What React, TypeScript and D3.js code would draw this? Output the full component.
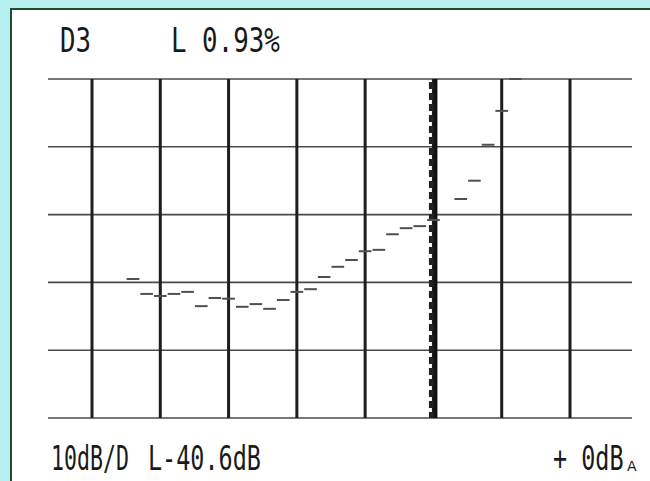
import React, { useEffect, useRef } from 'react';
import * as d3 from 'd3';

// level per analyser bin, dB (null = not drawn)
const levels: (number | null)[] = [
  -29.5, -31.7, -32.0, -31.7, -31.4, -33.5, -32.3, -32.4, -33.6, -33.2,
  -33.9, -32.6, -31.4, -31.0, -29.2, -27.7, -26.7, -25.4, -25.2, -22.9,
  -22.0, -21.7, -20.8, null, -17.7, -15.0, -9.7, -4.7, 0.0,
];
const levelTicks = [0, -10, -20, -30, -40, -50];
const binTicks = [-2.5, 2.5, 7.5, 12.5, 17.5, 22.5, 27.5, 32.5];
const cursorBin = 22.5;

const topLeft = 'D3';
const topMid = 'L 0.93%';
const bottomLeft = '10dB/D';
const bottomMid = 'L-40.6dB';
const bottomRight = '+ 0dB';

const W = 650;
const H = 481;

const App = () => {
  const svgRef = useRef<SVGSVGElement>(null);

  useEffect(() => {
    const svg = d3.select(svgRef.current);
    svg.selectAll('*').remove();

    const x = d3.scaleLinear().domain([-2.5, 32.5]).range([92, 570]);
    const y = d3.scaleLinear().domain([-50, 0]).range([418, 79]);
    const left = 48;
    const right = 632;

    svg.append('rect').attr('width', W).attr('height', H).attr('fill', '#b4eeee');
    svg.append('rect')
      .attr('x', 11).attr('y', 9).attr('width', W).attr('height', H)
      .attr('fill', '#ffffff')
      .attr('stroke', '#1d4d2c').attr('stroke-width', 2);

    const g = svg.append('g');

    g.selectAll('.hline')
      .data(levelTicks)
      .enter().append('line')
      .attr('x1', left).attr('x2', right)
      .attr('y1', d => y(d)).attr('y2', d => y(d))
      .attr('stroke', '#4a4a4a').attr('stroke-width', 1.6);

    g.selectAll('.vline')
      .data(binTicks)
      .enter().append('line')
      .attr('x1', d => x(d)).attr('x2', d => x(d))
      .attr('y1', y(0)).attr('y2', y(-50))
      .attr('stroke', '#1e1e1e').attr('stroke-width', 3);

    // cursor
    g.append('line')
      .attr('x1', x(cursorBin) + 2).attr('x2', x(cursorBin) + 2)
      .attr('y1', y(0)).attr('y2', y(-50))
      .attr('stroke', '#111').attr('stroke-width', 4);
    g.append('line')
      .attr('x1', x(cursorBin) - 2).attr('x2', x(cursorBin) - 2)
      .attr('y1', y(0) + 3).attr('y2', y(-50))
      .attr('stroke', '#222').attr('stroke-width', 5)
      .attr('stroke-dasharray', '7 4');

    g.selectAll('.dash')
      .data(levels.map((v, i) => ({ i, v })).filter(d => d.v !== null))
      .enter().append('line')
      .attr('x1', d => x(d.i) + 0.5).attr('x2', d => x(d.i + 1) - 0.5)
      .attr('y1', d => y(d.v as number)).attr('y2', d => y(d.v as number))
      .attr('stroke', '#505050').attr('stroke-width', 2);

    const txt = (s: string, tx: number, ty: number, sx: number) => {
      svg.append('text')
        .attr('transform', `translate(${tx},${ty}) scale(${sx},1)`)
        .attr('font-family', 'DejaVu Sans Mono')
        .attr('font-size', 34)
        .attr('fill', '#1a1a1a')
        .text(s);
    };
    txt(topLeft, 60, 52, 0.76);
    txt(topMid, 171, 52, 0.76);
    txt(bottomLeft, 51, 470, 0.635);
    txt(bottomMid, 148, 470, 0.69);
    txt(bottomRight, 553, 470, 0.69);
    svg.append('text')
      .attr('x', 627).attr('y', 471)
      .attr('font-family', 'DejaVu Sans')
      .attr('font-size', 14)
      .attr('fill', '#1a1a1a')
      .text('A');
  }, []);

  return (
    <svg ref={svgRef} width={W} height={H} style={{ position: 'fixed', left: 0, top: 0 }}></svg>
  );
};

export default App;
